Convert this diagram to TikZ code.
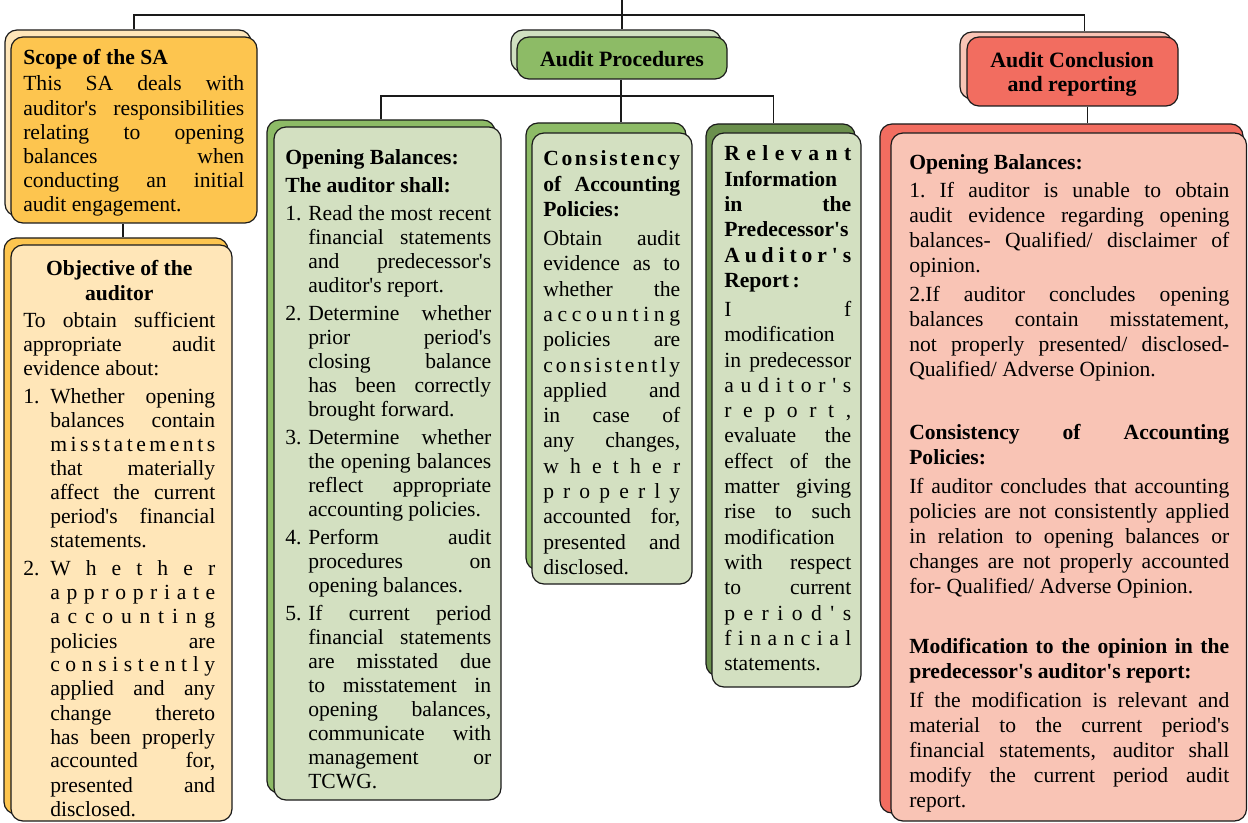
\documentclass[tikz,border=0pt]{standalone}
\usepackage{fontspec}
\setmainfont{Liberation Serif}
\usetikzlibrary{calc,fit}
\newlength\px \setlength\px{0.75pt}
\newlength\ind
\newcommand\ap{\textquotesingle}
\def\spend{}
\def\spgobble#1{}
\def\spaux#1#2{#1\ifx#2\spend\expandafter\spgobble\else\hfil\expandafter\spaux\fi#2}
\newcommand\Sp[1]{\spaux#1\spend}
\newcommand\JL[1]{\hbox to\linewidth{#1}}
\newcommand\LL[1]{\hbox to\linewidth{#1\hfil}}
\newcommand\CL[1]{\hbox to\linewidth{\hfil#1\hfil}}
\newcommand\JI[1]{\hbox to\linewidth{\hskip\ind\hbox to\dimexpr\linewidth-\ind\relax{#1}}}
\newcommand\LI[1]{\hbox to\linewidth{\hskip\ind#1\hfil}}
\newcommand\NJ[2]{\hbox to\linewidth{\hbox to\ind{#1\hfil}\hbox to\dimexpr\linewidth-\ind\relax{#2}}}
\newcommand\Gap[1]{\vskip#1\px}
\newcommand\Txt[3]{\vtop{\hsize=#1\px\linewidth=\hsize\baselineskip=#2\px\lineskiplimit=-20pt\lineskip=0pt\parskip=0pt\relax#3}}
\definecolor{cYel}{HTML}{FDC54F}
\definecolor{cYelL}{HTML}{FFE6B8}
\definecolor{cGrn}{HTML}{8DBB66}
\definecolor{cGrnL}{HTML}{D3E0C1}
\definecolor{cGrnP}{HTML}{D0E0C0}
\definecolor{cGrnD}{HTML}{6A8F4C}
\definecolor{cRed}{HTML}{F26D60}
\definecolor{cRedL}{HTML}{F9C4B5}
\definecolor{cLine}{HTML}{1A1A1A}
\begin{document}
\begin{tikzpicture}[x=0.75pt,y=-0.75pt,
  box/.style={draw=cLine, line width=0.9pt, rounded corners=9pt, inner sep=0pt},
  conn/.style={draw=cLine, line width=0.9pt},
  txt/.style={inner sep=0pt, anchor=base west, font=\fontsize{16.2pt}{18pt}\selectfont},
  head/.style={inner sep=0pt, font=\fontsize{16.4pt}{18pt}\selectfont\bfseries, align=center}]
\useasboundingbox (0,0) rectangle (1248,823);
% connectors
\coordinate (root) at (622,0);
\coordinate (bus) at (622,15);
\coordinate (bus2) at (621,96);
% back boxes
\node[box, fill=cYelL, fit={(5,30) (251,216)}] (scopeB) {};
\node[box, fill=cYel, fit={(4,238) (228,814)}] (objB) {};
\node[box, fill=cGrnP, fit={(511,30) (721,72)}] (apB) {};
\node[box, fill=cGrn, fit={(267,120) (495,793)}] (openB) {};
\node[box, fill=cGrn, fit={(526,123) (686,570)}] (consB) {};
\node[box, fill=cGrnD, fit={(706,124) (855,676)}] (relB) {};
\node[box, fill=cRedL, fit={(960,32) (1172,99)}] (concB) {};
\node[box, fill=cRed, fit={(880,124) (1243,813)}] (resB) {};
% front boxes
\node[box, fill=cYel, fit={(11,37) (257,223)}] (scopeF) {};
\node[box, fill=cYelL, fit={(11,245) (232,821)}] (objF) {};
\node[box, fill=cGrn, fit={(517,37) (727,79)}] (apF) {};
\node[box, fill=cGrnL, fit={(274,127) (501,800)}] (openF) {};
\node[box, fill=cGrnL, fit={(532,133) (692,584)}] (consF) {};
\node[box, fill=cGrnL, fit={(712,133) (861,687)}] (relF) {};
\node[box, fill=cRed, fit={(967,37) (1178,106)}] (concF) {};
\node[box, fill=cRedL, fit={(891,133) (1246.5,821)}] (resF) {};
\node[head] (apL) at (622,59) {Audit Procedures};
\node[head] (concL) at (1072,74) {Audit Conclusion\\and reporting};
% connectors
\coordinate (cx) at ($(concF.north)+(12,0)$);
\coordinate (s1) at ($(scopeF.south)+(-11,0)$);
\coordinate (c1) at ($(concF.south)+(15,0)$);
\coordinate (r1) at ($(relB.north)+(-7,0)$);
\draw[conn] (root) -- (bus);
\draw[conn] (scopeB.north -| scopeF.north) |- (bus) -| (cx |- concB.north);
\draw[conn] (bus) -- (bus |- apB.north);
\draw[conn] (apF.south -| bus2) -- (bus2);
\draw[conn] (openB.north) |- (bus2) -| (r1);
\draw[conn] (bus2) -- (bus2 |- consB.north);
\draw[conn] (s1) -- (s1 |- objB.north);
\draw[conn] (c1) -- (c1 |- resB.north);
% texts
\node[txt] (scopeT) at (23,65) {\Txt{221}{24.2}{%
\LL{\bfseries Scope of the SA}\Gap{1.8}
\JL{This SA deals with}
\JL{auditor\ap s responsibilities}
\JL{relating to opening}
\JL{balances when}
\JL{conducting an initial}
\LL{audit engagement.}}};
\node[txt] (objT) at (23,276) {\Txt{192}{24}{\setlength\ind{27\px}%
\CL{\bfseries Objective of the}\Gap{1}
\CL{\bfseries auditor}\Gap{3}
\JL{To obtain sufficient}
\JL{appropriate audit}
\LL{evidence about:}\Gap{4}
\NJ{1.}{Whether opening}
\JI{balances contain}
\JI{\Sp{misstatements}}
\JI{that materially}
\JI{affect the current}
\JI{period\ap s financial}
\LI{statements.}\Gap{4}
\NJ{2.}{\Sp{Whether}}
\JI{\Sp{appropriate}}
\JI{\Sp{accounting}}
\JI{policies are}
\JI{\Sp{consistently}}
\JI{applied and any}
\JI{change thereto}
\JI{has been properly}
\JI{accounted for,}
\JI{presented and}
\LI{disclosed.}}};
\node[txt] (openT) at (285,165) {\Txt{206}{24}{\setlength\ind{23\px}%
\LL{\bfseries Opening Balances:}\Gap{4}
\LL{\bfseries The auditor shall:}\Gap{4}
\NJ{1.}{Read the most recent}
\JI{financial statements}
\JI{and predecessor\ap s}
\LI{auditor\ap s report.}\Gap{4}
\NJ{2.}{Determine whether}
\JI{prior period\ap s}
\JI{closing balance}
\JI{has been correctly}
\LI{brought forward.}\Gap{4}
\NJ{3.}{Determine whether}
\JI{the opening balances}
\JI{reflect appropriate}
\LI{accounting policies.}\Gap{4}
\NJ{4.}{Perform audit}
\JI{procedures on}
\LI{opening balances.}\Gap{4}
\NJ{5.}{If current period}
\JI{financial statements}
\JI{are misstated due}
\JI{to misstatement in}
\JI{opening balances,}
\JI{communicate with}
\JI{management or}
\LI{TCWG.}}};
\node[txt] (consT) at (543,166) {\Txt{137}{25.3}{%
\JL{\bfseries\Sp{Consistency}}
\JL{\bfseries of Accounting}
\LL{\bfseries Policies:}\Gap{3.7}
\JL{Obtain audit}
\JL{evidence as to}
\JL{whether the}
\JL{\Sp{accounting}}
\JL{policies are}
\JL{\Sp{consistently}}
\JL{applied and}
\JL{in case of}
\JL{any changes,}
\JL{\Sp{whether}}
\JL{\Sp{properly}}
\JL{accounted for,}
\JL{presented and}
\LL{disclosed.}}};
\node[txt] (relT) at (724,161) {\Txt{127}{25.3}{%
\JL{\bfseries\Sp{Relevant}}
\LL{\bfseries Information}
\JL{\bfseries in the}
\LL{\bfseries Predecessor\ap s}
\JL{\bfseries\Sp{Auditor\ap s}}
\LL{\bfseries Report\,:}\Gap{3.7}
\JL{\Sp{If}}
\LL{modification}
\JL{in predecessor}
\JL{\Sp{auditor\ap s}}
\JL{\Sp{report,}}
\JL{evaluate the}
\JL{effect of the}
\JL{matter giving}
\JL{rise to such}
\LL{modification}
\JL{with respect}
\JL{to current}
\JL{\Sp{period\ap s}}
\JL{\Sp{financial}}
\LL{statements.}}};
\node[txt] (resT) at (909,170) {\Txt{320}{25}{%
\LL{\bfseries Opening Balances:}\Gap{3}
\JL{1.\ If auditor is unable to obtain}
\JL{audit evidence regarding opening}
\JL{balances- Qualified/ disclaimer of}
\LL{opinion.}\Gap{4}
\JL{2.If auditor concludes opening}
\JL{balances contain misstatement,}
\JL{not properly presented/ disclosed-}
\LL{Qualified/ Adverse Opinion.}\Gap{38}
\JL{\bfseries Consistency of Accounting}
\LL{\bfseries Policies:}\Gap{4}
\JL{If auditor concludes that accounting}
\JL{policies are not consistently applied}
\JL{in relation to opening balances or}
\JL{changes are not properly accounted}
\LL{for- Qualified/ Adverse Opinion.}\Gap{35}
\JL{\bfseries Modification to the opinion in the}
\LL{\bfseries predecessor\ap s auditor\ap s report:}\Gap{4}
\JL{If the modification is relevant and}
\JL{material to the current period\ap s}
\JL{financial statements, auditor shall}
\JL{modify the current period audit}
\LL{report.}}};
\end{tikzpicture}
\end{document}
